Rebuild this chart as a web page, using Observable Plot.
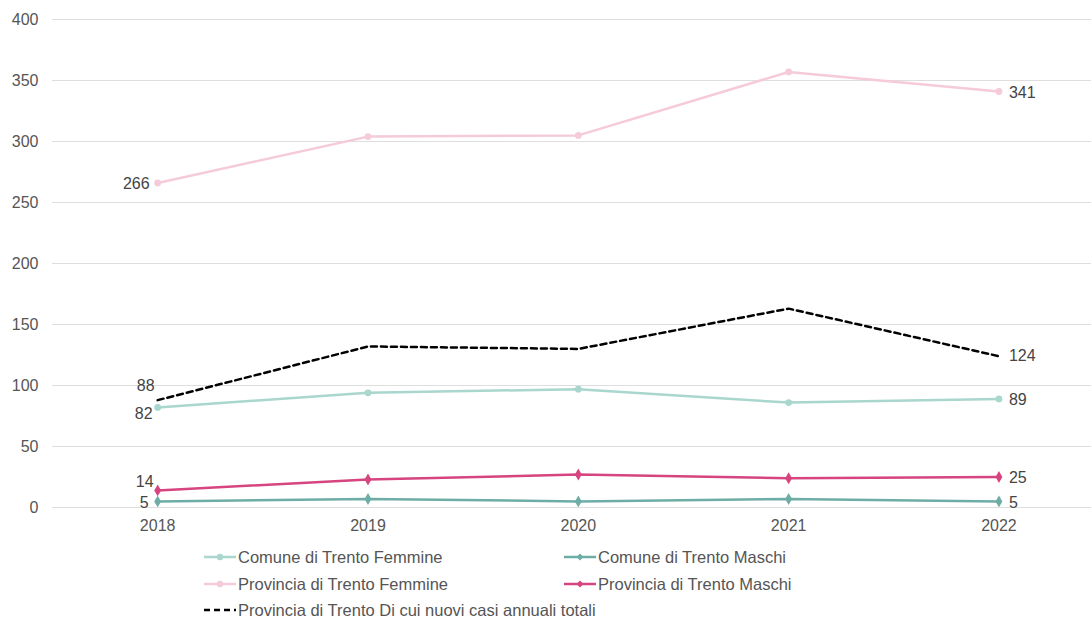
<!DOCTYPE html>
<html>
<head>
<meta charset="utf-8">
<script src="https://cdn.jsdelivr.net/npm/d3@7"></script>
<script src="https://cdn.jsdelivr.net/npm/@observablehq/plot@0.6"></script>
<style>
  html, body { margin: 0; padding: 0; background: #fff; }
  body { width: 1091px; font-family: "Liberation Sans", Arial, sans-serif; }
  #legend { position: relative; height: 78px; font-size: 16.5px; color: #555; }
  .item { position: absolute; display: flex; align-items: center; height: 20px; }
  .item svg { margin-right: 2px; }
</style>
</head>
<body>
<div id="chart"></div>
<div id="legend"></div>
<script>
const years = [2018, 2019, 2020, 2021, 2022];
const comuneFemmine = [82, 94, 97, 86, 89];
const comuneMaschi = [5, 7, 5, 7, 5];
const provinciaFemmine = [266, 304, 305, 357, 341];
const provinciaMaschi = [14, 23, 27, 24, 25];
const provinciaTotali = [88, 132, 130, 163, 124];
const yTicks = [0, 50, 100, 150, 200, 250, 300, 350, 400];

const series = [
  {name: "Comune di Trento Femmine", values: comuneFemmine, color: "#a9d6cd", symbol: "circle", dash: null, l0: [-5, 6], l1: [10, 1]},
  {name: "Comune di Trento Maschi", values: comuneMaschi, color: "#6dada5", symbol: "diamond", dash: null, l0: [-9, 1], l1: [10, 1]},
  {name: "Provincia di Trento Femmine", values: provinciaFemmine, color: "#f5cadb", symbol: "circle", dash: null, l0: [-8, 1], l1: [10, 1]},
  {name: "Provincia di Trento Maschi", values: provinciaMaschi, color: "#d6457f", symbol: "diamond", dash: null, l0: [-4, -9], l1: [10, 1]},
  {name: "Provincia di Trento Di cui nuovi casi annuali totali", values: provinciaTotali, color: "#000", symbol: null, dash: "6,4", l0: [-3, -14], l1: [10, 0]}
];

const marks = [
  Plot.gridY(yTicks, {stroke: "#dedede", strokeOpacity: 1, strokeWidth: 1}),
  Plot.axisY(yTicks, {tickSize: 0, tickPadding: 14, fontSize: 16, fill: "#555", label: null}),
  Plot.axisX(years, {tickSize: 0, tickPadding: 12, fontSize: 16, fill: "#555", label: null, tickFormat: "d"})
];

for (const s of series) {
  const data = years.map((y, i) => ({year: y, value: s.values[i]}));
  marks.push(Plot.line(data, {x: "year", y: "value", stroke: s.color, strokeWidth: 2.5, strokeDasharray: s.dash || undefined}));
  if (s.symbol) {
    marks.push(Plot.dot(data, {x: "year", y: "value", fill: s.color, stroke: null, symbol: s.symbol, r: s.symbol === "diamond" ? 3.6 : 3.4}));
  }
  const first = data.slice(0, 1), last = data.slice(-1);
  marks.push(Plot.text(first, {x: "year", y: "value", text: d => String(d.value), textAnchor: "end", dx: s.l0[0], dy: s.l0[1], fontSize: 16, fill: "#444"}));
  marks.push(Plot.text(last, {x: "year", y: "value", text: d => String(d.value), textAnchor: "start", dx: s.l1[0], dy: s.l1[1], fontSize: 16, fill: "#444"}));
}

const chart = Plot.plot({
  width: 1091,
  height: 540,
  marginLeft: 52,
  marginRight: 0,
  marginTop: 19,
  marginBottom: 33,
  style: {fontFamily: "'Liberation Sans', Arial, sans-serif", fontSize: "16px", background: "#fff"},
  x: {type: "linear", domain: [2017.5, 2022.44]},
  y: {domain: [0, 400]},
  marks
});
document.getElementById("chart").appendChild(chart);

// Legend
const legend = document.getElementById("legend");
const positions = [[204, 7], [564, 7], [204, 34], [564, 34], [204, 60]];
series.forEach((s, i) => {
  const div = document.createElement("div");
  div.className = "item";
  div.style.left = positions[i][0] + "px";
  div.style.top = positions[i][1] + "px";
  const ns = "http://www.w3.org/2000/svg";
  const svg = document.createElementNS(ns, "svg");
  svg.setAttribute("width", 32); svg.setAttribute("height", 12);
  const line = document.createElementNS(ns, "line");
  line.setAttribute("x1", 0); line.setAttribute("x2", 32); line.setAttribute("y1", 6); line.setAttribute("y2", 6);
  line.setAttribute("stroke", s.color); line.setAttribute("stroke-width", 2.5);
  if (s.dash) line.setAttribute("stroke-dasharray", "6,4");
  svg.appendChild(line);
  if (s.symbol === "circle") {
    const c = document.createElementNS(ns, "circle");
    c.setAttribute("cx", 16); c.setAttribute("cy", 6); c.setAttribute("r", 3.2); c.setAttribute("fill", s.color);
    svg.appendChild(c);
  } else if (s.symbol === "diamond") {
    const p = document.createElementNS(ns, "path");
    p.setAttribute("d", "M16,2.5L19.5,6L16,9.5L12.5,6Z"); p.setAttribute("fill", s.color);
    svg.appendChild(p);
  }
  div.appendChild(svg);
  const span = document.createElement("span");
  span.textContent = s.name;
  div.appendChild(span);
  legend.appendChild(div);
});
</script>
</body>
</html>
